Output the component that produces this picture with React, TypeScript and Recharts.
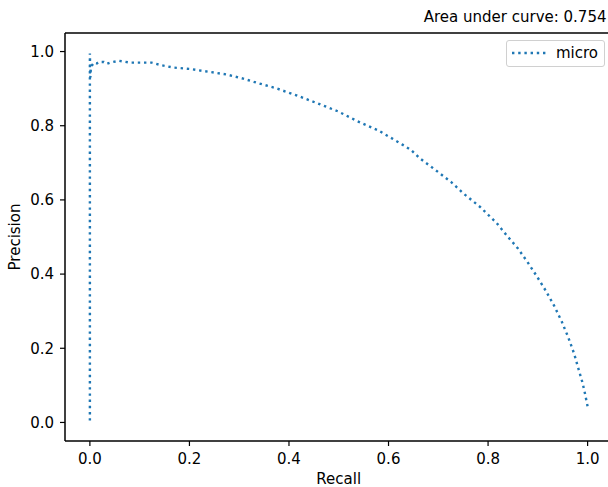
import React from 'react';
import { LineChart, Line, XAxis, YAxis, ReferenceLine } from 'recharts';

const recall = [
  0.0, 0.0, 0.001, 0.002, 0.004, 0.008, 0.014, 0.018, 0.028, 0.034, 0.040, 0.047, 0.059,
  0.081, 0.124, 0.144, 0.167, 0.201, 0.241, 0.275, 0.308, 0.340, 0.372, 0.415, 0.456,
  0.498, 0.538, 0.580, 0.618, 0.628, 0.645, 0.663, 0.690, 0.726, 0.750, 0.784, 0.817,
  0.837, 0.860, 0.879, 0.898, 0.916, 0.933, 0.948, 0.961, 0.973, 0.983, 0.990, 0.995, 1.0,
];

const precision = [
  0.005, 0.995, 0.930, 0.957, 0.962, 0.970, 0.968, 0.972, 0.972, 0.967, 0.970, 0.972, 0.975,
  0.970, 0.970, 0.963, 0.957, 0.953, 0.945, 0.938, 0.927, 0.914, 0.902, 0.882, 0.861,
  0.839, 0.812, 0.787, 0.757, 0.749, 0.735, 0.712, 0.685, 0.648, 0.618, 0.581, 0.538,
  0.505, 0.469, 0.433, 0.394, 0.355, 0.314, 0.272, 0.230, 0.185, 0.138, 0.106, 0.076, 0.043,
];

const xTicks = [0, 0.2, 0.4, 0.6, 0.8, 1.0];
const yTicks = [0, 0.2, 0.4, 0.6, 0.8, 1.0];
const seriesName = 'micro';
const aucValue = 0.754;

const data = recall.map((r, i) => ({ recall: r, precision: precision[i] }));

const FONT = 'DejaVu Sans, sans-serif';
const FS = 15;
const BLUE = '#1f77b4';
const LW = 2.4;
const DASH = '2.4 3.8';

// matplotlib-like legend box, top right of the axes
function LegendBox() {
  return (
    <div
      style={{
        position: 'absolute',
        left: 506,
        top: 40,
        boxSizing: 'border-box',
        width: 99,
        height: 27,
        border: '1px solid #d0d0d0',
        borderRadius: 3,
        background: 'rgba(255,255,255,0.8)',
        fontFamily: FONT,
        fontSize: FS,
        color: '#000',
      }}
    >
      <svg width={40} height={25} style={{ position: 'absolute', left: 3, top: 0 }}>
        <line x1={2} y1={12} x2={36} y2={12} stroke={BLUE} strokeWidth={LW} strokeDasharray={DASH} />
      </svg>
      <span style={{ position: 'absolute', left: 49, top: 3, lineHeight: '18px' }}>{seriesName}</span>
    </div>
  );
}

export default function App() {
  return (
    <div style={{ position: 'absolute', left: 0, top: 0, width: 608, height: 487, overflow: 'hidden', background: '#fff' }}>
      <LineChart width={620} height={487} data={data} margin={{ top: 33, right: 7.5, left: 0, bottom: 0 }}>
        <XAxis
          dataKey="recall"
          type="number"
          domain={[-0.05, 1.05]}
          ticks={xTicks}
          allowDataOverflow
          tickFormatter={(v: number) => v.toFixed(1)}
          height={46}
          tickSize={5}
          tickMargin={7}
          axisLine={{ stroke: '#000', strokeWidth: 1.5 }}
          tickLine={{ stroke: '#000', strokeWidth: 1.2 }}
          tick={{ fill: '#000', fontSize: FS, fontFamily: FONT }}
          label={{
            content: (props: any) => {
              const vb = props.viewBox;
              return (
                <text x={vb.x + vb.width / 2} y={vb.y + 43} textAnchor="middle" fill="#000" fontSize={FS} fontFamily={FONT}>
                  Recall
                </text>
              );
            },
          }}
        />
        <YAxis
          dataKey="precision"
          type="number"
          domain={[-0.05, 1.05]}
          ticks={yTicks}
          allowDataOverflow
          tickFormatter={(v: number) => v.toFixed(1)}
          width={65}
          tickSize={5}
          tickMargin={6}
          axisLine={{ stroke: '#000', strokeWidth: 1.5 }}
          tickLine={{ stroke: '#000', strokeWidth: 1.2 }}
          tick={{ fill: '#000', fontSize: FS, fontFamily: FONT }}
          label={{
            content: (props: any) => {
              const vb = props.viewBox;
              const cy = vb.y + vb.height / 2;
              return (
                <text x={20} y={cy} transform={`rotate(-90, 20, ${cy})`} textAnchor="middle" fill="#000" fontSize={FS} fontFamily={FONT}>
                  Precision
                </text>
              );
            },
          }}
        />
        <ReferenceLine
          y={1.05}
          stroke="#000"
          strokeWidth={1.5}
          ifOverflow="visible"
          label={{
            content: () => (
              <text x={606.5} y={22} textAnchor="end" fill="#000" fontSize={FS} fontFamily={FONT}>
                {`Area under curve: ${aucValue}`}
              </text>
            ),
          }}
        />
        <ReferenceLine x={1.05} stroke="#000" strokeWidth={1.5} ifOverflow="visible" />
        <Line
          type="linear"
          dataKey="precision"
          name={seriesName}
          stroke={BLUE}
          strokeWidth={LW}
          strokeDasharray={DASH}
          dot={false}
          activeDot={false}
          isAnimationActive={false}
        />
      </LineChart>
      <LegendBox />
    </div>
  );
}
